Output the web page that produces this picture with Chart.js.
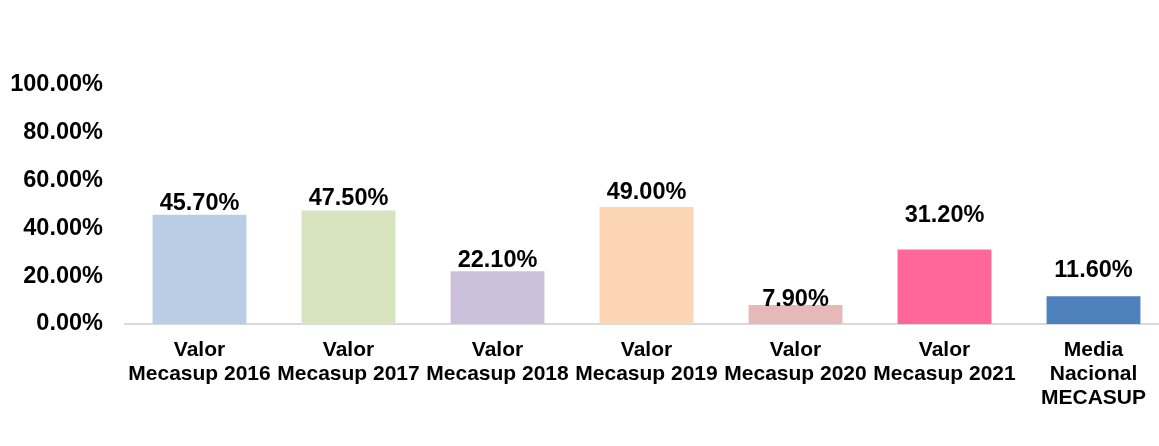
<!DOCTYPE html>
<html>
<head>
<meta charset="utf-8">
<script src="https://cdn.jsdelivr.net/npm/chart.js@4/dist/chart.umd.min.js"></script>
<style>
html,body{margin:0;padding:0;background:#fff;overflow:hidden;width:1159px;height:446px;}
canvas{display:block;}
</style>
</head>
<body>
<canvas id="c" width="1168" height="446" style="width:1168px;height:446px"></canvas>
<script>
const categories = [
  ['Valor', 'Mecasup 2016'],
  ['Valor', 'Mecasup 2017'],
  ['Valor', 'Mecasup 2018'],
  ['Valor', 'Mecasup 2019'],
  ['Valor', 'Mecasup 2020'],
  ['Valor', 'Mecasup 2021'],
  ['Media', 'Nacional', 'MECASUP']
];
const values = [45.7, 47.5, 22.1, 49.0, 7.9, 31.2, 11.6];
const barColors = ['#B9CDE5', '#D7E4BD', '#CCC1DA', '#FCD5B5', '#E6B9B8', '#FF6699', '#4F81BD'];
const yTicks = [0, 20, 40, 60, 80, 100];

const FONT = '"Liberation Sans", Arial, sans-serif';
const labelGap = [5, 5, 4, 8, -1, 27, 19];

const dataLabels = {
  id: 'dataLabels',
  afterDatasetsDraw(chart) {
    const ctx = chart.ctx;
    const meta = chart.getDatasetMeta(0);
    ctx.save();
    ctx.font = 'bold 23.5px ' + FONT;
    ctx.fillStyle = '#000';
    ctx.textAlign = 'center';
    ctx.textBaseline = 'alphabetic';
    meta.data.forEach((bar, i) => {
      const v = chart.data.datasets[0].data[i];
      ctx.fillText(v.toFixed(2) + '%', bar.x, bar.y - labelGap[i]);
    });
    ctx.restore();
  }
};

new Chart(document.getElementById('c'), {
  type: 'bar',
  data: {
    labels: categories,
    datasets: [{
      data: values,
      backgroundColor: barColors,
      borderWidth: 0,
      categoryPercentage: 1,
      barPercentage: 0.63
    }]
  },
  options: {
    responsive: false,
    animation: false,
    devicePixelRatio: 1,
    layout: { padding: { top: 85, right: 0, bottom: 0, left: 0 } },
    plugins: { legend: { display: false }, tooltip: { enabled: false } },
    scales: {
      x: {
        grid: { display: false, drawTicks: false },
        border: { display: true, color: '#D9D9D9', width: 2 },
        ticks: {
          color: '#000',
          padding: 14,
          maxRotation: 0,
          autoSkip: false,
          font: { family: FONT, size: 21, weight: 'bold', lineHeight: '24px' }
        },
        afterFit(scale) { scale.height = 122; }
      },
      y: {
        min: 0,
        max: 100,
        afterBuildTicks(scale) { scale.ticks = yTicks.map(v => ({ value: v })); },
        grid: { display: false, drawTicks: false },
        border: { display: false },
        ticks: {
          color: '#000',
          padding: 22,
          font: { family: FONT, size: 23.5, weight: 'bold' },
          callback: v => v.toFixed(2) + '%'
        },
        afterFit(scale) { scale.width = 125; }
      }
    }
  },
  plugins: [dataLabels]
});
</script>
</body>
</html>
